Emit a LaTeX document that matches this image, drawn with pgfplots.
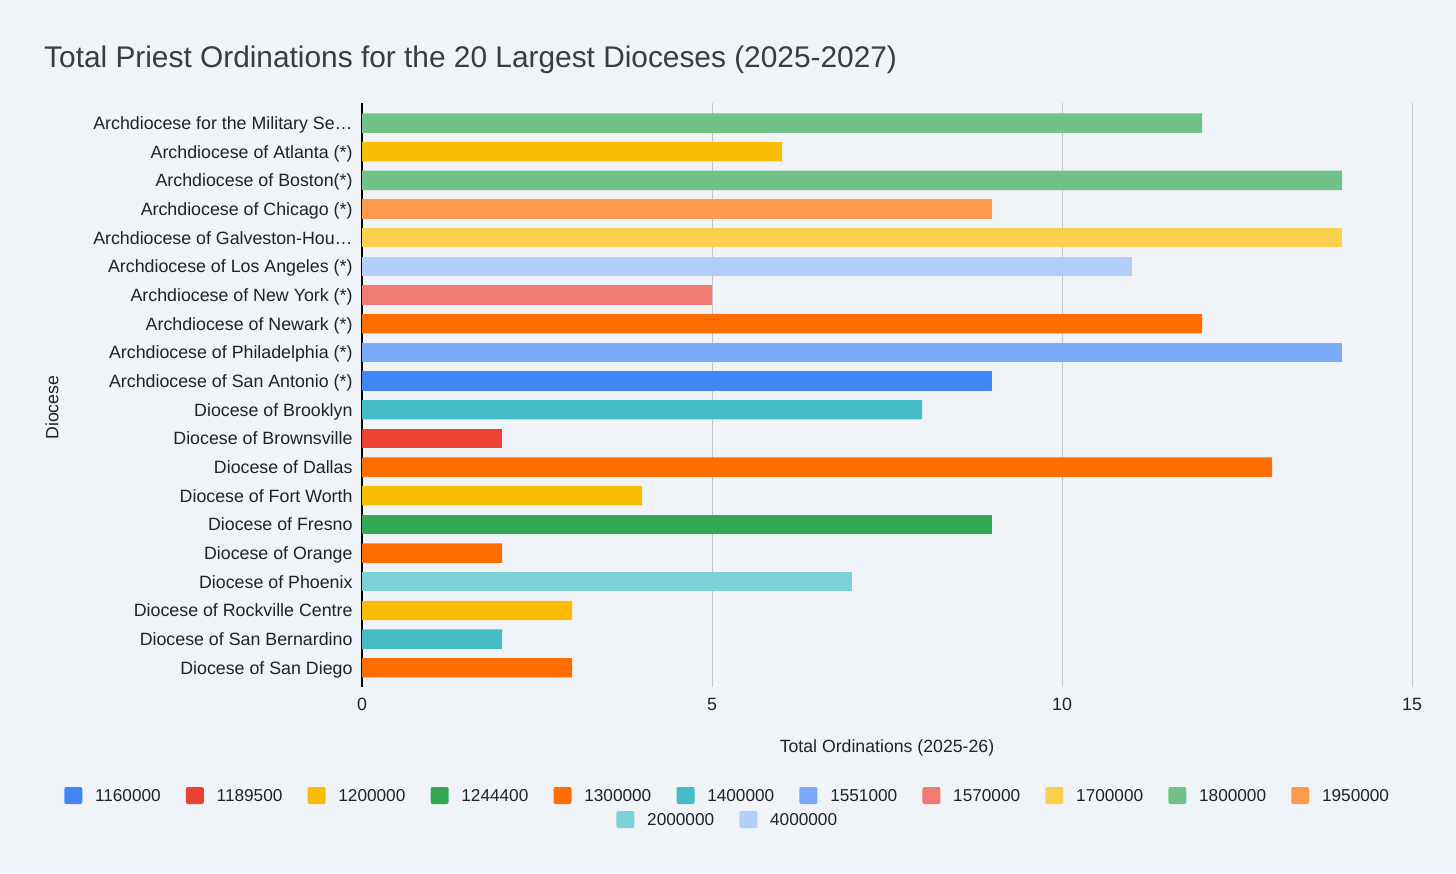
\documentclass[border=0pt]{standalone}
\usepackage{fontspec}
\setmainfont{Liberation Sans}
\usepackage{pgfplots}
\pgfplotsset{compat=1.18}
\definecolor{bg}{HTML}{F0F3F8}
\definecolor{gridc}{HTML}{C4C7CC}
\definecolor{titlec}{HTML}{3C3C3C}
\definecolor{txt}{HTML}{222222}
\definecolor{cA}{HTML}{4285F4}
\definecolor{cB}{HTML}{EA4335}
\definecolor{cC}{HTML}{FBBC04}
\definecolor{cD}{HTML}{34A853}
\definecolor{cE}{HTML}{FF6D01}
\definecolor{cF}{HTML}{46BDC6}
\definecolor{cG}{HTML}{7BAAF7}
\definecolor{cH}{HTML}{F07B72}
\definecolor{cI}{HTML}{FCD04F}
\definecolor{cJ}{HTML}{71C287}
\definecolor{cK}{HTML}{FF994D}
\definecolor{cL}{HTML}{7ED1D7}
\definecolor{cM}{HTML}{B3CEFB}
\pgfplotsset{sq legend/.style={legend image code/.code={\fill[##1,draw=none,rounded corners=2pt] (0pt,-8.5pt) rectangle (18pt,8.5pt);}}}
\pgfplotsset{legstyle/.style={legend style={draw=none, fill=none, inner sep=0pt, outer sep=0pt,
  font=\fontsize{17.2}{20}\selectfont, text=txt,
  nodes={inner sep=0pt, text height=12.3pt, text depth=0pt},
  /tikz/every odd column/.append style={column sep=12.8pt},
  /tikz/every even column/.append style={column sep=25.2pt}}}}
\begin{document}
\begin{tikzpicture}
\fill[bg] (0pt,0pt) rectangle (1456pt,873pt);
\node[anchor=base west, inner sep=0pt, text=titlec, font=\fontsize{29.85}{36}\selectfont] at (44pt,805.3pt) {Total Priest Ordinations for the 20 Largest Dioceses (2025-2027)};
\begin{axis}[
  at={(362pt,186pt)}, anchor=south west,
  scale only axis, width=1050pt, height=584.3pt,
  xbar, bar width=19.4pt, bar shift=0pt,
  xmin=0, xmax=15, ymin=-0.71, ymax=19.67, y dir=reverse,
  xtick={5,10,15}, extra x ticks={0},
  extra x tick style={grid style={black, line width=1.3pt}},
  xmajorgrids, grid style={color=gridc, line width=1pt},
  ytick={0,...,19},
  yticklabels={Archdiocese for the Military Se…, Archdiocese of Atlanta (*), Archdiocese of Boston(*), Archdiocese of Chicago (*), Archdiocese of Galveston-Hou…, Archdiocese of Los Angeles (*), Archdiocese of New York (*), Archdiocese of Newark (*), Archdiocese of Philadelphia (*), Archdiocese of San Antonio (*), Diocese of Brooklyn, Diocese of Brownsville, Diocese of Dallas, Diocese of Fort Worth, Diocese of Fresno, Diocese of Orange, Diocese of Phoenix, Diocese of Rockville Centre, Diocese of San Bernardino, Diocese of San Diego},
  axis line style={draw=none}, major tick length=0pt,
  /pgf/number format/assume math mode=true,
  tick label style={font=\fontsize{17.8}{21}\selectfont, text=txt},
  yticklabel style={anchor=east, inner sep=0pt, xshift=-9.3pt, text height=12.7pt, text depth=0pt},
  xticklabel style={anchor=center, inner sep=0pt, yshift=-17pt, text height=12.7pt, text depth=0pt},
  xlabel={Total Ordinations (2025-26)},
  ylabel={Diocese},
  label style={font=\fontsize{17.7}{21}\selectfont, text=txt},
  xlabel style={at={(axis description cs:0.5,-0.1044)}, anchor=center, inner sep=0pt},
  ylabel style={at={(axis description cs:-0.2952,0.478)}, anchor=center, inner sep=0pt},
  legstyle, legend columns=11,
  legend style={at={(axis description cs:0.3473,-0.1857)}, anchor=center},
]
\addplot[fill=cA, draw=none, sq legend] coordinates {(9,9)};
\addlegendentry{1160000}
\addplot[fill=cB, draw=none, sq legend] coordinates {(2,11)};
\addlegendentry{1189500}
\addplot[fill=cC, draw=none, sq legend] coordinates {(6,1) (4,13) (3,17)};
\addlegendentry{1200000}
\addplot[fill=cD, draw=none, sq legend] coordinates {(9,14)};
\addlegendentry{1244400}
\addplot[fill=cE, draw=none, sq legend] coordinates {(12,7) (13,12) (2,15) (3,19)};
\addlegendentry{1300000}
\addplot[fill=cF, draw=none, sq legend] coordinates {(8,10) (2,18)};
\addlegendentry{1400000}
\addplot[fill=cG, draw=none, sq legend] coordinates {(14,8)};
\addlegendentry{1551000}
\addplot[fill=cH, draw=none, sq legend] coordinates {(5,6)};
\addlegendentry{1570000}
\addplot[fill=cI, draw=none, sq legend] coordinates {(14,4)};
\addlegendentry{1700000}
\addplot[fill=cJ, draw=none, sq legend] coordinates {(12,0) (14,2)};
\addlegendentry{1800000}
\addplot[fill=cK, draw=none, sq legend] coordinates {(9,3)};
\addlegendentry{1950000}
\addplot[fill=cL, draw=none, forget plot] coordinates {(7,16)};
\addplot[fill=cM, draw=none, forget plot] coordinates {(11,5)};
\end{axis}
\begin{axis}[
  at={(362pt,186pt)}, anchor=south west,
  scale only axis, width=1050pt, height=584.3pt,
  hide axis, xmin=0, xmax=1, ymin=0, ymax=1,
  legstyle, legend columns=2,
  legend style={at={(axis description cs:0.3474,-0.2268)}, anchor=center},
]
\addlegendimage{fill=cL, draw=none, sq legend}
\addlegendentry{2000000}
\addlegendimage{fill=cM, draw=none, sq legend}
\addlegendentry{4000000}
\end{axis}
\end{tikzpicture}
\end{document}
